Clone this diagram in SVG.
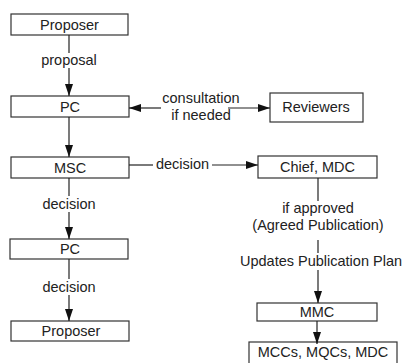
<svg xmlns="http://www.w3.org/2000/svg" width="406" height="363" viewBox="0 0 406 363">
<style>
.box{fill:#fff;stroke:#333;stroke-width:1.2}
.open{fill:none;stroke:#333;stroke-width:1.2}
.t{font-family:"Liberation Sans",Arial,sans-serif;font-size:14.5px;fill:#222;text-anchor:middle}
.ln{stroke:#222;stroke-width:1.2;fill:none}
</style>
<defs>
<marker id="ah" markerUnits="userSpaceOnUse" markerWidth="12" markerHeight="10" refX="12" refY="5" orient="auto">
<path d="M0,1 L12,5 L0,9 Z" fill="#111"/>
</marker>
</defs>
<rect width="406" height="363" fill="#fff"/>
<g id="proposer1"><rect class="box" x="11" y="14" width="117" height="21"/><text class="t" x="69.5" y="30">Proposer</text></g>
<g id="pc1"><rect class="box" x="11" y="96" width="118" height="21"/><text class="t" x="70" y="112">PC</text></g>
<g id="reviewers"><rect class="box" x="270" y="93" width="93" height="29"/><text class="t" x="316" y="112">Reviewers</text></g>
<g id="msc"><rect class="box" x="11" y="157" width="118" height="21"/><text class="t" x="70" y="173">MSC</text></g>
<g id="chief"><rect class="box" x="258" y="156" width="119" height="22"/><text class="t" x="317.5" y="172">Chief, MDC</text></g>
<g id="pc2"><rect class="box" x="10" y="239" width="118" height="20"/><text class="t" x="70" y="254">PC</text></g>
<g id="proposer2"><rect class="box" x="11" y="321" width="118" height="20"/><text class="t" x="71" y="336">Proposer</text></g>
<g id="mmc"><rect class="box" x="257" y="303" width="120" height="18"/><text class="t" x="317" y="317">MMC</text></g>
<g id="mccs"><rect class="box" x="249" y="342" width="148" height="24"/><text class="t" x="323" y="357">MCCs, MQCs, MDC</text></g>
<g id="connectors">
<line class="ln" x1="69" y1="35" x2="69" y2="53"/>
<line class="ln" x1="69" y1="68" x2="69" y2="96" marker-end="url(#ah)"/>
<line class="ln" x1="69" y1="117" x2="69" y2="157" marker-end="url(#ah)"/>
<line class="ln" x1="69" y1="178" x2="69" y2="196"/>
<line class="ln" x1="69" y1="212" x2="69" y2="239" marker-end="url(#ah)"/>
<line class="ln" x1="69" y1="259" x2="69" y2="279"/>
<line class="ln" x1="69" y1="295" x2="69" y2="321" marker-end="url(#ah)"/>
<line class="ln" x1="161" y1="108" x2="129" y2="108" marker-end="url(#ah)"/>
<line class="ln" x1="228" y1="108" x2="270" y2="108" marker-end="url(#ah)"/>
<line class="ln" x1="129" y1="165" x2="153" y2="165"/>
<line class="ln" x1="212" y1="165" x2="258" y2="165" marker-end="url(#ah)"/>
<line class="ln" x1="318" y1="178" x2="318" y2="201"/>
<line class="ln" x1="318" y1="240" x2="318" y2="253"/>
<line class="ln" x1="318" y1="270" x2="318" y2="303" marker-end="url(#ah)"/>
<line class="ln" x1="317" y1="321" x2="317" y2="344" marker-end="url(#ah)"/>
<text class="t" x="69" y="65">proposal</text>
<text class="t" x="201" y="103">consultation</text>
<text class="t" x="201" y="120">if needed</text>
<text class="t" x="182.5" y="169">decision</text>
<text class="t" x="69" y="209">decision</text>
<text class="t" x="69" y="292">decision</text>
<text class="t" x="318" y="213">if approved</text>
<text class="t" x="318" y="230">(Agreed Publication)</text>
<text class="t" x="321" y="266">Updates Publication Plan</text>
</g>
</svg>
